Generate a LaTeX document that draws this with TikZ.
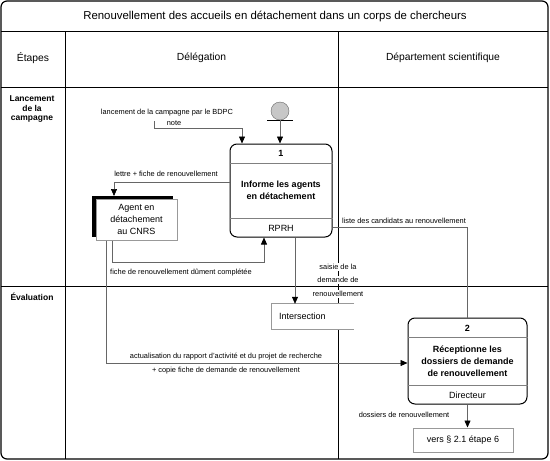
\documentclass[tikz,border=0pt]{standalone}
\usepackage{fontspec}
\setmainfont{Liberation Sans}
\usetikzlibrary{arrows.meta,shadows}

\begin{document}
\begin{tikzpicture}[x=1pt, y=-1pt,
    cadre/.style={line width=0.9pt},
    flux/.style={draw=black!60, line width=0.6pt},
    fleche/.style={flux, -{Triangle[length=7pt, width=6pt, color=black]}},
    etiq/.style={font=\fontsize{7.4}{8}\selectfont, inner sep=1pt},
    entete/.style={font=\fontsize{10.3}{12}\selectfont},
    etape/.style={font=\fontsize{8.5}{9.5}\bfseries\selectfont, align=center},
    proc/.style={draw, line width=1pt, rounded corners=7pt, fill=white},
    boite/.style={draw=black!40, line width=1pt, fill=white, align=center,
      font=\fontsize{9}{12}\selectfont},
    texteproc/.style={font=\fontsize{9}{12}\selectfont, align=center, inner sep=1pt}
  ]
    \useasboundingbox (0,0) rectangle (550,461);

    % cadre du tableau
    \draw[line width=1.2pt, rounded corners=6pt] (1,1) rectangle (548,459);
    \draw[cadre] (1,31) -- (548,31);
    \draw[cadre] (1,87) -- (548,87);
    \draw[cadre] (1,286) -- (548,286);
    \draw[cadre] (65,31) -- (65,459);
    \draw[cadre] (338,31) -- (338,459);

    \node[font=\fontsize{11.4}{13}\selectfont] (titre) at (275,16) {Renouvellement des accueils en détachement dans un corps de chercheurs};
    \node[entete] (etapes) at (33,58) {Étapes};
    \node[entete] (delegation) at (201.5,58) {Délégation};
    \node[entete] (departement) at (443,58) {Département scientifique};
    \node[etape] (lancement) at (32,109) {Lancement\\de la\\campagne};
    \node[etape] (evaluation) at (32,297) {Évaluation};

    % boites
    \node[circle, draw=black!60, fill=black!22, minimum size=18pt, inner sep=0pt] (debut) at (280,111) {};
    \draw[line width=0.8pt] ([xshift=-13pt]debut.south) -- ([xshift=13pt]debut.south);

    \node[proc, minimum width=102pt, minimum height=93pt] (p1) at (281,190.5) {};
    \draw[black!50] (p1.west |- 0,163) -- (p1.east |- 0,163);
    \draw[black!50] (p1.west |- 0,218) -- (p1.east |- 0,218);
    \node[texteproc, font=\fontsize{9}{12}\bfseries\selectfont] (p1num) at (281,153.5) {1};
    \node[texteproc, font=\fontsize{9}{12}\bfseries\selectfont] (p1txt) at (281,190) {Informe les agents\\en détachement};
    \node[texteproc] (p1role) at (281,228.5) {RPRH};

    \node[boite, minimum width=81pt, minimum height=41pt, inner sep=1pt,
      general shadow={fill=black, shadow xshift=-4pt, shadow yshift=3pt}] (agent) at (136.5,219.5) {Agent en\\détachement\\au CNRS};

    \node[fill=white, minimum width=82pt, minimum height=25pt] (inter) at (313,316.5) {};
    \draw[draw=black!40, line width=1pt] (inter.north east) -- (inter.north west) -- (inter.south west) -- (inter.south east);
    \node[texteproc, anchor=west] (intertxt) at (278,316) {Intersection};

    \node[proc, minimum width=119pt, minimum height=86pt] (p2) at (467.5,361) {};
    \draw[black!50] (p2.west |- 0,337) -- (p2.east |- 0,337);
    \draw[black!50] (p2.west |- 0,385) -- (p2.east |- 0,385);
    \node[texteproc, font=\fontsize{9}{12}\bfseries\selectfont] (p2num) at (467.5,328) {2};
    \node[texteproc, font=\fontsize{9}{12}\bfseries\selectfont] (p2txt) at (467.5,361) {Réceptionne les\\dossiers de demande\\de renouvellement};
    \node[texteproc] (p2role) at (467.5,395) {Directeur};

    \node[boite, minimum width=100pt, minimum height=24pt] (vers) at (463,440) {vers § 2.1 étape 6};

    % flux
    \coordinate (note-dep) at (154,121);
    \coordinate (lettre-fin) at (114,196);
    \draw[fleche] (debut.south) -- (p1.north -| debut);
    \draw[fleche] (note-dep) |- (242,128) -- (242,0 |- p1.north);
    \draw[fleche] (p1.west |- 0,182) -| (lettre-fin);
    \draw[fleche] (112,0 |- agent.south) |- (264,262) -- (264,0 |- p1.south);
    \draw[fleche] (106,0 |- agent.south) |- (p2.west |- 0,363);
    \draw[fleche] (295,0 |- p1.south) -- (295,0 |- inter.north);
    \draw[flux] (p1.east |- 0,227) -| (p2.north);
    \draw[fleche] (p2.south) -- (p2.south |- vers.north);

    % etiquettes
    \node[etiq] (lanc) at (167,113) {lancement de la campagne par le BDPC};
    \node[etiq] (note) at (174,123) {note};
    \node[etiq] (lettre) at (166,174) {lettre + fiche de renouvellement};
    \node[etiq] (fiche) at (181,273) {fiche de renouvellement dûment complétée};
    \node[etiq] (liste) at (404,221) {liste des candidats au renouvellement};
    \node[etiq, fill=white] (saisie1) at (338,267) {saisie de la};
    \node[etiq, fill=white] (saisie2) at (338,280) {demande de};
    \node[etiq, fill=white] (saisie3) at (338,294) {renouvellement};
    \node[etiq] (actu) at (226,357) {actualisation du rapport d'activité et du projet de recherche};
    \node[etiq] (copie) at (226,371) {+ copie fiche de demande de renouvellement};
    \node[etiq] (dossiers) at (404,415) {dossiers de renouvellement};
\end{tikzpicture}
\end{document}
